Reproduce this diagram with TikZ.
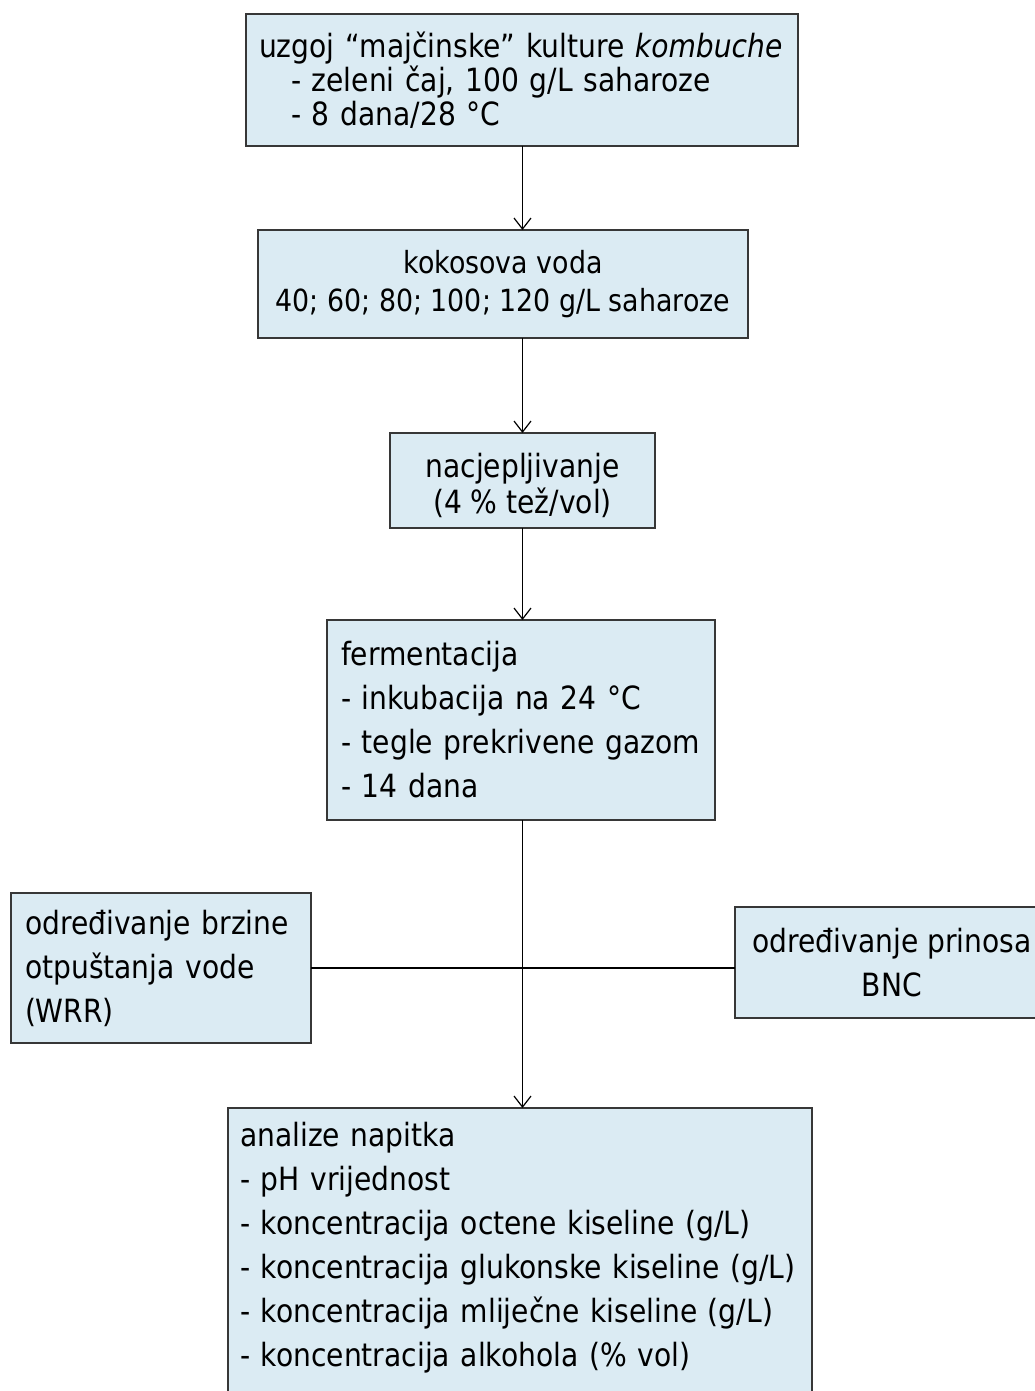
\documentclass[tikz,border=0pt]{standalone}
\usepackage{fontspec}
\setmainfont{DejaVu Sans}[FakeStretch=0.88]
\usetikzlibrary{arrows.meta}
\definecolor{boxfill}{RGB}{219,235,243}
\definecolor{boxline}{RGB}{55,55,55}
\tikzset{
  box/.style={draw=boxline, fill=boxfill, line width=1.6pt, anchor=north west, inner ysep=0pt, outer sep=0pt},
  lbox/.style={box, align=left},
  cbox/.style={box, align=center, inner xsep=0pt},
  conn/.style={line width=1.2pt, draw=black},
  arr/.style={conn, -{Straight Barb[length=11pt,width=17pt,line width=1.2pt]}},
  fb/.style={font=\fontsize{32}{44}\selectfont},
}
\begin{document}
\begin{tikzpicture}[x=1pt,y=-1pt]
\useasboundingbox (0,0) rectangle (1035,1391);
\fill[white] (0,0) rectangle (1035,1391);

\node[lbox, font=\fontsize{32}{34}\selectfont, minimum width=552pt, minimum height=132pt, text width=526pt, inner xsep=13pt] (b1) at (246,14)
  {uzgoj “majčinske” kulture \textit{kombuche}\\\hspace*{32pt}- zeleni čaj, 100 g/L saharoze\\\hspace*{32pt}- 8 dana/28 °C};

\node[cbox, font=\fontsize{30.5}{38}\selectfont, minimum width=490pt, minimum height=108pt] (b2) at (258,230)
  {kokosova voda\\40; 60; 80; 100; 120 g/L saharoze};

\node[cbox, font=\fontsize{32}{36}\selectfont, minimum width=265pt, minimum height=95pt, text height=70pt] (b3) at (390,433)
  {nacjepljivanje\\(4 \% tež/vol)};

\node[lbox, fb, minimum width=388pt, minimum height=200pt, text width=360pt, inner xsep=14pt] (b4) at (327,620)
  {fermentacija\\- inkubacija na 24 °C\\- tegle prekrivene gazom\\- 14 dana};

\node[lbox, fb, minimum width=300pt, minimum height=150pt, text width=272pt, inner xsep=14pt] (wrr) at (11,893)
  {određivanje brzine\\otpuštanja vode\\(WRR)};

\node[cbox, fb, minimum width=314pt, minimum height=111pt] (bnc) at (735,907)
  {određivanje prinosa\\BNC};

\node[lbox, fb, text width=560pt, inner xsep=12pt, inner ysep=14pt] (b5) at (228,1108)
  {analize napitka\\- pH vrijednost\\- koncentracija octene kiseline (g/L)\\- koncentracija glukonske kiseline (g/L)\\- koncentracija mliječne kiseline (g/L)\\- koncentracija alkohola (\% vol)\\\mbox{}};

\draw[arr] (b3.north |- b1.south) -- (b3.north |- b2.north);
\draw[arr] (b3.north |- b2.south) -- (b3.north);
\draw[arr] (b3.south) -- (b3.south |- b4.north);
\draw[arr] (b3.south |- b4.south) -- (b3.south |- b5.north);
\draw[conn] (wrr.east) -- (wrr.east -| bnc.west);
\end{tikzpicture}
\end{document}
